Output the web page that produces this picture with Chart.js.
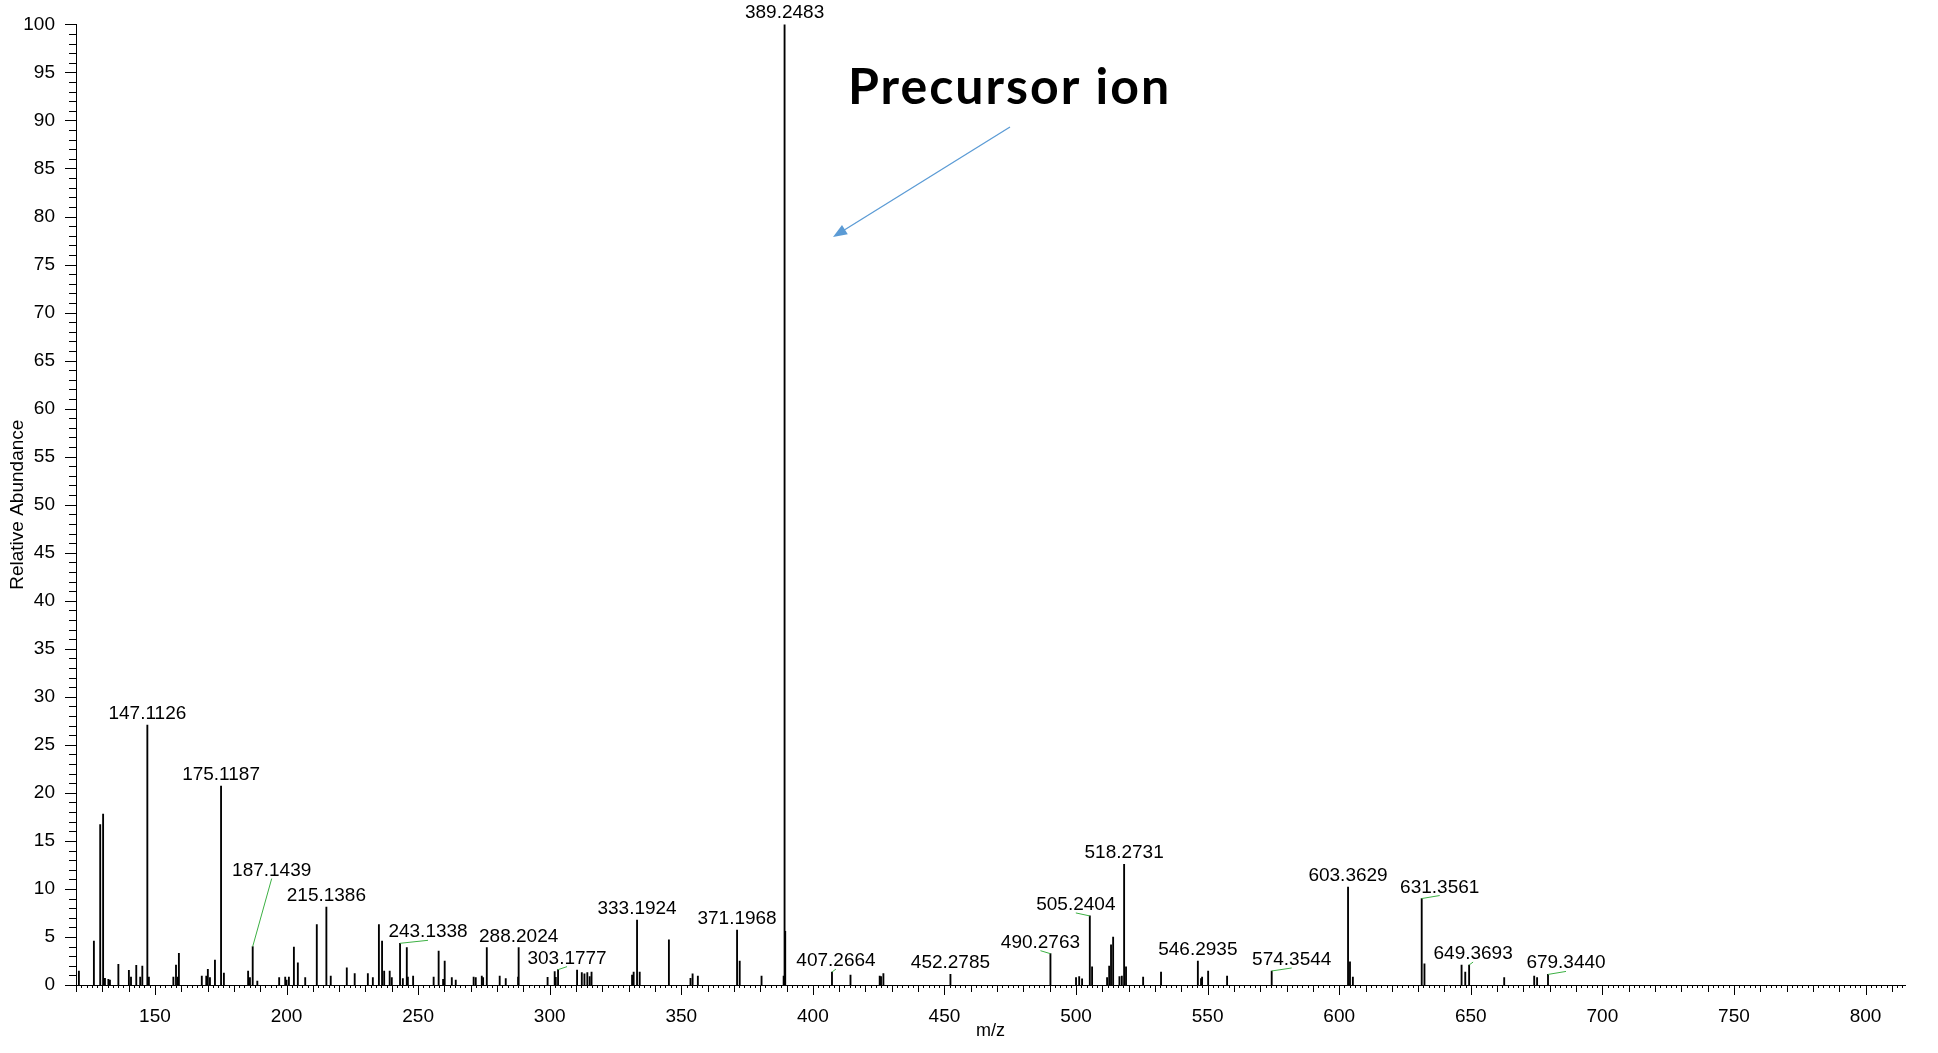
<!DOCTYPE html>
<html>
<head>
<meta charset="utf-8">
<script src="https://cdn.jsdelivr.net/npm/chart.js@4.4.0/dist/chart.umd.min.js"></script>
<style>
  body { margin: 0; background: #fff; }
  #wrap { width: 1938px; height: 1053px; }
</style>
</head>
<body>
<div id="wrap"><canvas id="spectrum"></canvas></div>
<script>
// peak list (m/z, relative abundance %)
const mzValues = [
  121.1, 126.8, 129.2, 130.3, 131.0, 132.3, 132.9, 136.1, 140.1, 140.9,
  142.9, 144.4, 145.2, 147.1126, 147.7, 157.0, 158.0, 158.7, 159.1, 167.8,
  169.5, 170.1, 170.9, 172.8, 175.1187, 176.2, 185.4, 186.1, 187.1439, 188.9,
  197.2, 199.5, 200.0, 200.9, 202.8, 204.3, 207.1, 211.5, 215.1386, 216.8,
  222.9, 225.9, 230.9, 232.8, 235.1, 236.3, 237.1, 239.2, 240.0, 243.1338,
  244.2, 245.7, 246.1, 248.1, 255.9, 257.8, 259.5, 260.1, 262.8, 264.3,
  271.1, 271.9, 274.2, 274.7, 276.1, 281.0, 283.3, 288.0, 288.2024, 299.2,
  301.9, 302.3, 303.1777, 310.4, 312.2, 313.2, 314.3, 315.2, 315.9, 331.3,
  331.9, 333.1924, 334.2, 345.3, 353.5, 354.3, 356.3, 371.1968, 372.2, 380.5,
  388.9, 389.2483, 389.5, 407.2664, 414.3, 425.4, 425.9, 426.8, 452.2785, 490.2763,
  500.0, 501.2, 502.3, 505.2404, 506.1, 511.8, 512.6, 513.3, 514.1, 516.5,
  517.4, 518.2731, 519.0, 525.5, 532.3, 546.2935, 547.5, 547.9, 550.2, 557.4,
  574.3544, 603.3629, 604.1, 605.2, 631.3561, 632.4, 646.5, 647.9, 649.3693, 662.7,
  674.1, 675.2, 679.3440
];
const abundance = [
  1.46, 4.58, 16.7, 17.8, 0.7, 0.6, 0.5, 2.15, 1.53, 0.83,
  2.05, 0.83, 1.98, 27.05, 0.83, 0.83, 2.08, 0.83, 3.3, 0.94,
  0.94, 1.63, 0.76, 2.6, 20.7, 1.25, 1.46, 0.76, 4.0, 0.4,
  0.76, 0.83, 0.5, 0.83, 3.96, 2.3, 0.76, 6.3, 8.1, 0.94,
  1.8, 1.18, 1.18, 0.76, 6.3, 4.58, 1.46, 1.46, 0.76, 4.34,
  0.66, 3.9, 0.83, 0.94, 0.83, 3.54, 0.6, 2.5, 0.76, 0.5,
  0.83, 0.76, 0.94, 0.76, 3.9, 0.94, 0.66, 0.83, 3.9, 0.8,
  1.4, 0.8, 1.6, 1.56, 1.28, 1.15, 1.28, 0.87, 1.35, 1.04,
  1.35, 6.77, 1.35, 4.69, 0.7, 1.15, 0.94, 5.73, 2.5, 0.94,
  0.94, 100, 5.6, 1.35, 1.04, 0.94, 0.87, 1.2, 1.1, 3.26,
  0.76, 0.87, 0.63, 7.19, 1.88, 0.76, 1.98, 4.17, 5.0, 0.87,
  0.94, 12.57, 1.88, 0.83, 1.35, 2.5, 0.66, 0.83, 1.46, 0.94,
  1.46, 10.2, 2.4, 0.83, 9.0, 2.2, 2.08, 1.35, 2.08, 0.76,
  0.94, 0.76, 1.1
];
// peaks that carry an m/z label
const labelledPeaks = [
  147.1126, 175.1187, 187.1439, 215.1386, 243.1338, 288.2024, 303.1777,
  333.1924, 371.1968, 389.2483, 407.2664, 452.2785, 490.2763, 505.2404,
  518.2731, 546.2935, 574.3544, 603.3629, 631.3561, 649.3693, 679.3440
];
const xTickValues = [150, 200, 250, 300, 350, 400, 450, 500, 550, 600, 650, 700, 750, 800];
const yTickValues = [0, 5, 10, 15, 20, 25, 30, 35, 40, 45, 50, 55, 60, 65, 70, 75, 80, 85, 90, 95, 100];

// labels that were moved off their peak (pixels), drawn with a green leader
const labelNudge = {
  '187.1439': [19, -65], '243.1338': [28, 0], '303.1777': [9, 0],
  '407.2664': [4, 0], '490.2763': [-10, 0], '505.2404': [-14, 0],
  '574.3544': [20, 0], '631.3561': [18, 0], '649.3693': [4, 0],
  '679.3440': [18, 0]
};

const FONT = '"Liberation Sans", Arial, sans-serif';

const overlay = {
  id: 'overlay',
  afterDraw(chart) {
    const {ctx, scales: {x, y}} = chart;
    ctx.save();

    // tick marks: x every 2, longer every 10 and 50; y every 1, longer every 5
    ctx.strokeStyle = '#000';
    ctx.lineWidth = 1;
    ctx.beginPath();
    for (let v = 120; v <= 815; v += 2) {
      const px = Math.round(x.getPixelForValue(v)) + 0.5;
      const len = v % 50 === 0 ? 10 : (v % 10 === 0 ? 7 : 3);
      ctx.moveTo(px, y.bottom);
      ctx.lineTo(px, y.bottom + len);
    }
    for (let v = 0; v <= 100; v++) {
      const py = Math.round(y.getPixelForValue(v)) + 0.5;
      const len = v % 5 === 0 ? 11 : 7;
      ctx.moveTo(x.left - len, py);
      ctx.lineTo(x.left, py);
    }
    ctx.stroke();

    // peak labels
    const meta = chart.getDatasetMeta(0);
    ctx.font = '19px ' + FONT;
    ctx.textAlign = 'center';
    ctx.textBaseline = 'alphabetic';
    labelledPeaks.forEach(mz => {
      const bar = meta.data[mzValues.indexOf(mz)];
      const text = mz.toFixed(4);
      const [dx, dy] = labelNudge[text] || [0, 0];
      const lx = bar.x + dx, ly = bar.y - 6 + dy;
      if (dx || dy) {
        ctx.strokeStyle = '#3cb043';
        ctx.beginPath();
        ctx.moveTo(bar.x, bar.y);
        ctx.lineTo(lx, ly + 3);
        ctx.stroke();
      }
      ctx.fillStyle = '#000';
      ctx.fillText(text, lx, ly);
    });

    // annotation
    ctx.font = 'bold 50px Lato, sans-serif';
    ctx.textAlign = 'left';
    ctx.letterSpacing = '2px';
    ctx.fillText('Precursor ion', 848, 104);
    ctx.letterSpacing = '0px';

    const x0 = 1010, y0 = 127, x1 = 833, y1 = 237;
    const ang = Math.atan2(y1 - y0, x1 - x0);
    ctx.strokeStyle = '#5b9bd5';
    ctx.fillStyle = '#5b9bd5';
    ctx.lineWidth = 1.3;
    ctx.beginPath();
    ctx.moveTo(x0, y0);
    ctx.lineTo(x1 - 10 * Math.cos(ang), y1 - 10 * Math.sin(ang));
    ctx.stroke();
    ctx.beginPath();
    ctx.moveTo(x1, y1);
    ctx.lineTo(x1 - 14 * Math.cos(ang) + 5.5 * Math.sin(ang), y1 - 14 * Math.sin(ang) - 5.5 * Math.cos(ang));
    ctx.lineTo(x1 - 14 * Math.cos(ang) - 5.5 * Math.sin(ang), y1 - 14 * Math.sin(ang) + 5.5 * Math.cos(ang));
    ctx.closePath();
    ctx.fill();

    ctx.restore();
  }
};

const ctx = document.getElementById('spectrum').getContext('2d');
const spectrumChart = new Chart(ctx, {
  type: 'bar',
  data: {
    datasets: [{
      label: 'Relative Abundance',
      data: mzValues.map((mz, i) => ({x: mz, y: abundance[i]})),
      backgroundColor: '#000',
      borderWidth: 0,
      barThickness: 1.2
    }]
  },
  options: {
    responsive: true,
    maintainAspectRatio: false,
    animation: false,
    layout: { padding: { top: 24, right: 33, left: 0, bottom: 0 } },
    plugins: { legend: { display: false }, tooltip: { enabled: false } },
    scales: {
      x: {
        type: 'linear',
        min: 120,
        max: 815,
        offset: false,
        grid: { display: false },
        border: { color: '#000', width: 1 },
        afterBuildTicks: s => { s.ticks = xTickValues.map(v => ({value: v})); },
        afterFit: s => { s.height = 68; },
        ticks: { font: { size: 19, family: FONT }, color: '#000', padding: 12, maxRotation: 0, autoSkip: false },
        title: { display: true, text: 'm/z', color: '#000', font: { size: 18, family: FONT }, padding: { top: 0, bottom: 11 } }
      },
      y: {
        min: 0,
        max: 100,
        grid: { display: false },
        border: { color: '#000', width: 1 },
        afterBuildTicks: s => { s.ticks = yTickValues.map(v => ({value: v})); },
        afterFit: s => { s.width = 76; },
        ticks: { font: { size: 19, family: FONT }, color: '#000', padding: 13 },
        title: { display: true, text: 'Relative Abundance', color: '#000', font: { size: 19, family: FONT }, padding: { top: 6, bottom: 0 } }
      }
    }
  },
  plugins: [overlay]
});
</script>
</body>
</html>
